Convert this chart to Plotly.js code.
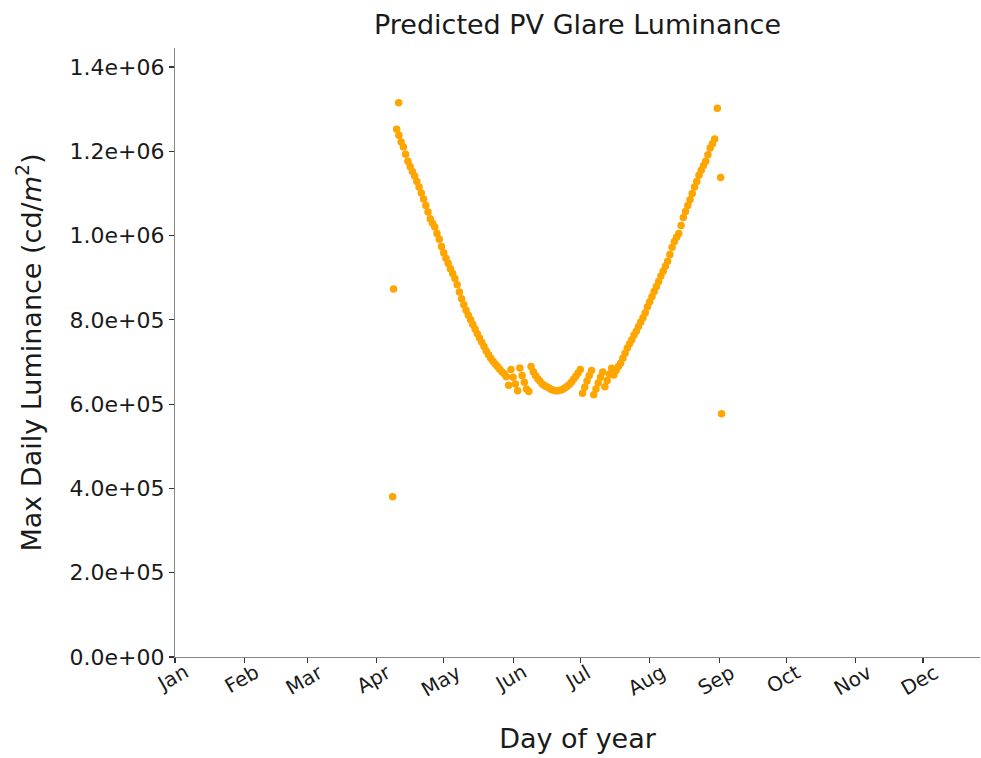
<!DOCTYPE html>
<html>
<head>
<meta charset="utf-8">
<script src="https://cdn.plot.ly/plotly-3.0.1.min.js"></script>
<style>html,body{margin:0;padding:0;background:#fff;}#chart{width:981px;height:758px;}</style>
</head>
<body>
<div id="chart"></div>
<script>
// Day of year (x) and max daily luminance in cd/m^2 (y)
const days = [
  98.2, 98.6, 100.9,
  100,101,102,103,104,105,106,107,108,109,110,111,112,113,114,115,116,117,118,119,
  120,121,122,123,124,125,126,127,128,129,130,131,132,133,134,135,136,137,138,139,
  140,141,142,143,144,145,146,147,148,149,150,151,152,153,154,155,156,157,158,159,
  160,161,162,163,164,165,166,167,168,169,170,171,172,173,174,175,176,177,178,179,
  180,181,182,183,184,185,186,187,188,189,190,191,192,193,194,195,196,197,198,199,
  200,201,202,203,204,205,206,207,208,209,210,211,212,213,214,215,216,217,218,219,
  220,221,222,223,224,225,226,227,228,229,230,231,232,233,234,235,236,237,238,239,
  240,241,242,
  243.2, 244.7, 245.1
];
const luminanceK = [
  380, 873, 1315,
  1252,1238,1222,1210,1193,1176,1164,1152,1141,1128,1115,1101,1087,1071,1056,1040,1029,1020,1005,991,
  974,959,946,934,921,910,898,883,866,850,836,823,811,800,789,778,767,757,747,737,
  726,717,709,702,695,689,683,677,672,665,645,682,664,648,632,686,668,652,636,630,
  689,677,668,660,654,648,644,641,638,635,633,632,632,633,635,638,642,646,652,659,
  666,674,682,626,640,655,668,680,622,636,650,664,676,641,656,671,685,669,680,689,
  697,709,721,733,743,753,764,773,784,795,805,817,831,843,855,867,879,891,904,915,
  927,939,955,972,986,996,1005,1024,1043,1057,1071,1085,1100,1115,1128,1143,1155,1166,1176,1192,
  1208,1218,1229,
  1302, 1138, 577
];
const luminance = luminanceK.map(v => v * 1000);

const monthDays = [1,32,60,91,121,152,182,213,244,274,305,335];
const monthNames = ["Jan","Feb","Mar","Apr","May","Jun","Jul","Aug","Sep","Oct","Nov","Dec"];
const yTickVals = [0,200000,400000,600000,800000,1000000,1200000,1400000];
const yTickText = ["0.0e+00","2.0e+05","4.0e+05","6.0e+05","8.0e+05","1.0e+06","1.2e+06","1.4e+06"];

const font = "DejaVu Sans, sans-serif";
const txt = "#1a1a1a";

// rotated month labels centred under their ticks (matplotlib style)
const monthAnnotations = monthDays.map((d, i) => ({
  x: d, xref: "x", y: 0, yref: "paper",
  text: monthNames[i], showarrow: false, textangle: -30,
  xanchor: "center", yanchor: "top", yshift: 0, xshift: -3,
  font: {family: font, size: 20, color: txt}
}));

Plotly.newPlot("chart", [{
  x: days,
  y: luminance,
  type: "scatter",
  mode: "markers",
  marker: {color: "#FFA500", size: 7.5, line: {width: 0}},
  hoverinfo: "x+y"
}], {
  width: 981,
  height: 758,
  margin: {l: 175, r: 1, t: 48, b: 101},
  paper_bgcolor: "#fff",
  plot_bgcolor: "#fff",
  font: {family: font, color: txt, size: 20},
  showlegend: false,
  title: {
    text: "Predicted PV Glare Luminance",
    font: {family: font, size: 27, color: txt},
    xref: "paper", x: 0.5, xanchor: "center",
    yref: "container", y: 1 - 25/758, yanchor: "middle"
  },
  annotations: monthAnnotations,
  xaxis: {
    range: [1, 360.5],
    tickmode: "array",
    tickvals: monthDays,
    ticktext: monthNames,
    showticklabels: false,
    ticks: "outside", ticklen: 5, tickwidth: 1.2, tickcolor: "#333",
    showline: true, linecolor: "#888", linewidth: 1.2,
    showgrid: false, zeroline: false,
    title: {text: "Day of year", font: {family: font, size: 27, color: txt}, standoff: 66}
  },
  yaxis: {
    range: [0, 1445000],
    tickmode: "array",
    tickvals: yTickVals,
    ticktext: yTickText,
    ticks: "outside", ticklen: 5, tickwidth: 1.2, tickcolor: "#333",
    showline: true, linecolor: "#888", linewidth: 1.2,
    showgrid: false, zeroline: false,
    tickfont: {family: font, size: 22, color: txt},
    title: {text: "Max Daily Luminance (cd/<i>m</i><sup>2</sup>)", font: {family: font, size: 27, color: txt}, standoff: 20}
  }
}, {displayModeBar: false, staticPlot: true});
</script>
</body>
</html>
